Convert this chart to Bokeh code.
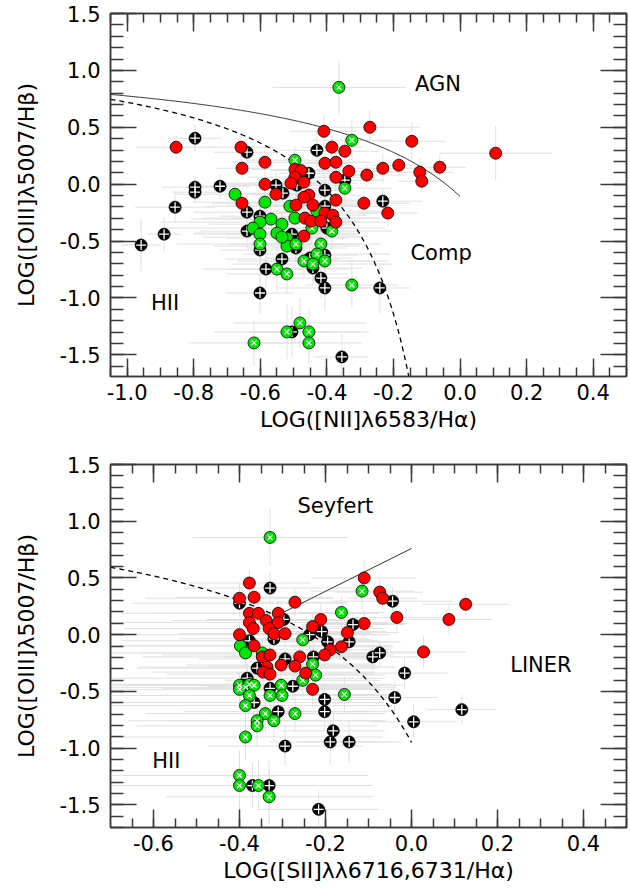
import numpy as np
from bokeh.plotting import figure
from bokeh.models import LinearAxis, SingleIntervalTicker, Range1d, PrintfTickFormatter
from bokeh.layouts import column
from bokeh.embed import file_html
from bokeh.resources import INLINE
from bokeh.core.properties import value

FONT = "DejaVu Sans"
AXC = "#3a3a3a"
RED = "#ff0000"
GREEN = "#00e600"
ERRC = "#e0e0e0"

# ---------------- top panel: [NII]/Ha ----------------
top_red_x = [-0.853,-0.658,-0.655,-0.586,-0.586,-0.655,-0.553,-0.409,-0.271,-0.385,
             -0.346,-0.406,-0.373,-0.496,-0.478,-0.334,-0.280,-0.232,-0.184,-0.145,
             0.107,-0.061,-0.121,-0.115,-0.496,-0.373,-0.508,-0.469,-0.454,-0.469,
             -0.373,-0.289,-0.217,-0.493,-0.442,-0.406,-0.382,-0.466,-0.448,-0.418,
             -0.373,-0.469]
top_red_y = [0.325,0.325,0.140,0.193,0.000,-0.167,-0.088,0.465,0.500,0.325,
             0.290,0.184,0.193,0.130,0.120,0.114,0.080,0.140,0.167,0.377,
             0.272,0.149,0.105,0.026,0.061,0.061,0.009,0.018,-0.096,-0.114,
             -0.140,-0.167,-0.254,-0.184,-0.184,-0.254,-0.272,-0.298,-0.325,-0.325,
             -0.333,-0.456]
top_red_xe = [0.12,0.10,0.08,0.10,0.12,0.09,0.14,0.10,0.15,0.09,0.10,0.08,0.11,0.13,0.09,
              0.15,0.12,0.12,0.08,0.10,0.17,0.08,0.10,0.07,0.14,0.12,0.20,0.10,0.16,0.13,
              0.11,0.14,0.09,0.21,0.12,0.16,0.10,0.22,0.13,0.11,0.15,0.19]
top_red_ye = [0.10,0.12,0.09,0.11,0.08,0.10,0.12,0.14,0.15,0.10,0.12,0.08,0.10,0.09,0.11,
              0.12,0.10,0.13,0.09,0.16,0.24,0.10,0.12,0.09,0.08,0.10,0.11,0.09,0.12,0.10,
              0.13,0.11,0.12,0.09,0.10,0.12,0.14,0.11,0.10,0.12,0.09,0.13]

top_blk_x = [-0.796,-0.796,-0.796,-0.721,-0.856,-0.640,-0.430,-0.454,-0.346,-0.553,
             -0.532,-0.490,-0.406,-0.232,-0.640,-0.601,-0.406,-0.400,-0.505,-0.640,
             -0.493,-0.601,-0.535,-0.451,-0.406,-0.442,-0.583,-0.418,-0.406,-0.241,
             -0.601,-0.505,-0.355,-0.889,-0.958]
top_blk_y = [0.404,-0.026,-0.070,-0.018,-0.202,0.281,0.298,0.096,0.035,-0.009,
             -0.079,-0.009,-0.053,-0.149,-0.246,-0.281,-0.193,-0.386,-0.439,-0.412,
             -0.561,-0.579,-0.658,-0.649,-0.623,-0.737,-0.746,-0.825,-0.912,-0.912,
             -0.956,-1.298,-1.518,-0.439,-0.535]
top_blk_xe = [0.08,0.10,0.07,0.09,0.12,0.10,0.11,0.09,0.12,0.14,0.10,0.13,0.09,0.12,0.16,
              0.12,0.18,0.10,0.20,0.14,0.15,0.12,0.17,0.13,0.10,0.15,0.12,0.11,0.14,0.09,
              0.10,0.13,0.08,0.05,0.06]
top_blk_ye = [0.12,0.10,0.09,0.11,0.14,0.12,0.15,0.11,0.10,0.12,0.13,0.10,0.12,0.11,0.14,
              0.12,0.10,0.13,0.11,0.15,0.12,0.14,0.13,0.12,0.15,0.14,0.16,0.18,0.20,0.22,
              0.18,0.22,0.20,0.15,0.23]

top_grn_x = [-0.676,-0.586,-0.511,-0.430,-0.496,-0.568,-0.601,-0.535,-0.622,-0.601,
             -0.550,-0.520,-0.520,-0.535]
top_grn_y = [-0.088,-0.158,-0.193,-0.237,-0.298,-0.307,-0.333,-0.351,-0.386,-0.439,
             -0.430,-0.474,-0.544,-0.465]
top_grn_xe = [0.18,0.22,0.25,0.20,0.28,0.24,0.30,0.22,0.26,0.20,0.25,0.18,0.22,0.24]
top_grn_ye = [0.10,0.12,0.11,0.13,0.10,0.12,0.14,0.11,0.13,0.12,0.10,0.14,0.12,0.11]

top_gx_x = [-0.364,-0.325,-0.496,-0.346,-0.385,-0.445,-0.601,-0.493,-0.418,-0.430,
            -0.469,-0.442,-0.406,-0.550,-0.520,-0.325,-0.481,-0.520,-0.454,-0.454,-0.619]
top_gx_y = [0.851,0.386,0.211,-0.035,-0.412,-0.386,-0.526,-0.526,-0.526,-0.614,
            -0.675,-0.702,-0.675,-0.746,-0.789,-0.886,-1.219,-1.298,-1.298,-1.395,-1.395]
top_gx_xe = [0.20,0.12,0.15,0.14,0.18,0.22,0.25,0.20,0.18,0.22,0.20,0.24,0.19,0.22,0.18,
             0.14,0.20,0.22,0.18,0.16,0.20]
top_gx_ye = [0.23,0.18,0.12,0.14,0.16,0.15,0.18,0.14,0.16,0.17,0.15,0.18,0.16,0.20,0.18,
             0.20,0.22,0.24,0.20,0.18,0.20]

# ---------------- bottom panel: [SII]/Ha ----------------
bot_red_x = [-0.377,-0.400,-0.366,-0.271,-0.110,-0.074,-0.067,0.126,-0.034,0.087,
             -0.377,-0.356,-0.310,-0.377,-0.338,-0.310,-0.211,-0.230,-0.110,-0.368,
             -0.331,-0.320,-0.294,-0.149,-0.400,-0.366,-0.163,-0.189,-0.202,0.028,
             -0.347,-0.329,-0.260,-0.271,-0.303,-0.336,-0.345,-0.329,-0.246,-0.230]
bot_red_y = [0.455,0.321,0.330,0.286,0.500,0.375,0.321,0.268,0.152,0.134,
             0.188,0.188,0.188,0.107,0.125,0.107,0.134,0.071,0.098,0.054,
             0.054,0.009,0.009,0.018,0.000,-0.098,-0.107,-0.134,-0.179,-0.152,
             -0.196,-0.179,-0.196,-0.277,-0.268,-0.286,-0.330,-0.348,-0.339,-0.482]
bot_red_xe = [0.14,0.22,0.18,0.12,0.12,0.10,0.08,0.10,0.12,0.10,
              0.30,0.25,0.20,0.32,0.22,0.18,0.12,0.14,0.10,0.30,
              0.26,0.22,0.20,0.12,0.35,0.30,0.12,0.14,0.16,0.10,
              0.28,0.25,0.18,0.20,0.22,0.30,0.26,0.24,0.16,0.14]
bot_red_ye = [0.12,0.14,0.10,0.12,0.16,0.12,0.10,0.10,0.12,0.14,
              0.10,0.12,0.11,0.10,0.12,0.10,0.13,0.11,0.12,0.10,
              0.12,0.10,0.11,0.12,0.10,0.12,0.11,0.10,0.12,0.14,
              0.11,0.10,0.12,0.11,0.10,0.12,0.11,0.13,0.12,0.14]

bot_blk_x = [-0.329,-0.400,-0.297,-0.044,-0.136,-0.209,-0.237,-0.377,-0.320,-0.195,
             -0.145,-0.294,-0.228,-0.090,-0.074,-0.016,-0.359,-0.382,-0.329,-0.276,
             -0.366,-0.310,-0.294,-0.202,-0.202,-0.039,0.117,0.005,-0.182,-0.189,
             -0.145,-0.370,-0.331,-0.216]
bot_blk_y = [0.411,0.277,0.134,0.295,0.089,0.027,0.000,-0.054,-0.036,-0.063,
             -0.063,-0.214,-0.196,-0.196,-0.161,-0.339,-0.295,-0.384,-0.473,-0.455,
             -0.598,-0.679,-0.982,-0.571,-0.679,-0.554,-0.661,-0.768,-0.848,-0.946,
             -0.946,-1.330,-1.330,-1.540]
bot_blk_xe = [0.20,0.25,0.18,0.14,0.12,0.15,0.16,0.30,0.22,0.14,
              0.12,0.20,0.16,0.10,0.12,0.10,0.28,0.32,0.25,0.20,
              0.30,0.22,0.18,0.14,0.15,0.10,0.08,0.10,0.12,0.14,
              0.12,0.26,0.24,0.14]
bot_blk_ye = [0.14,0.12,0.10,0.12,0.11,0.10,0.12,0.11,0.10,0.12,
              0.11,0.12,0.13,0.12,0.11,0.14,0.12,0.13,0.14,0.12,
              0.15,0.16,0.18,0.15,0.16,0.14,0.13,0.15,0.18,0.20,
              0.18,0.20,0.22,0.16]

bot_grn_x = [-0.398,-0.386,-0.347]
bot_grn_y = [-0.098,-0.161,-0.161]
bot_grn_xe = [0.35,0.32,0.28]
bot_grn_ye = [0.12,0.14,0.12]

bot_gx_x = [-0.329,-0.115,-0.163,-0.253,-0.230,-0.223,-0.253,-0.156,-0.400,-0.386,
            -0.377,-0.366,-0.400,-0.377,-0.386,-0.329,-0.303,-0.301,-0.340,-0.320,
            -0.359,-0.359,-0.271,-0.386,-0.400,-0.400,-0.356,-0.331]
bot_gx_y = [0.857,0.384,0.196,-0.045,-0.259,-0.357,-0.402,-0.527,-0.446,-0.464,
            -0.438,-0.446,-0.482,-0.536,-0.625,-0.536,-0.446,-0.536,-0.696,-0.759,
            -0.759,-0.804,-0.696,-0.902,-1.241,-1.330,-1.330,-1.429]
bot_gx_xe = [0.18,0.12,0.10,0.16,0.14,0.16,0.18,0.12,0.38,0.35,
             0.33,0.30,0.36,0.32,0.34,0.26,0.24,0.22,0.28,0.25,
             0.30,0.28,0.20,0.32,0.30,0.30,0.26,0.24]
bot_gx_ye = [0.25,0.16,0.14,0.12,0.14,0.13,0.15,0.16,0.12,0.13,
             0.12,0.14,0.13,0.15,0.16,0.14,0.13,0.15,0.17,0.18,
             0.16,0.18,0.16,0.20,0.22,0.24,0.22,0.24]

# demarcation-line coefficients (Kauffmann 2003, Kewley 2001, Kewley 2006)
KE01_N = (0.61, 0.47, 1.19)
KA03_N = (0.61, 0.05, 1.30)
KE01_S = (0.72, 0.32, 1.30)
SEY_S = (1.89, 0.76)

top_labels = ["AGN", "Comp", "HII"]
top_label_x = [-0.066, -0.057, -0.886]
top_label_y = [0.88, -0.605, -1.045]
bot_labels = ["Seyfert", "LINER", "HII"]
bot_label_x = [-0.177, 0.301, -0.570]
bot_label_y = [1.135, -0.27, -1.115]


def style_axis(ax, tin, tmin, show):
    ax.major_tick_in = tin
    ax.major_tick_out = 0
    ax.minor_tick_in = tmin
    ax.minor_tick_out = 0
    for a in ("axis_line", "major_tick_line", "minor_tick_line"):
        setattr(ax, a + "_color", AXC)
        setattr(ax, a + "_width", 1.5)
    ax.major_label_text_font = FONT
    ax.major_label_text_font_size = "21px"
    ax.major_label_text_color = "black"
    ax.axis_label_text_font = FONT
    ax.axis_label_text_font_size = "22px"
    ax.axis_label_text_font_style = "normal"
    ax.axis_label_text_color = "black"
    if not show:
        ax.major_label_text_color = None
        ax.major_label_text_font_size = "1px"
        ax.major_label_standoff = 0


def panel(height, borders, xr, yr, xlabel, ylabel):
    left, right, top, bottom = borders
    p = figure(width=630, height=height, x_range=Range1d(*xr), y_range=Range1d(*yr),
               output_backend="svg", toolbar_location=None,
               min_border_left=left, min_border_right=right,
               min_border_top=top, min_border_bottom=bottom)
    p.xgrid.visible = False
    p.ygrid.visible = False
    p.outline_line_color = AXC
    p.outline_line_width = 1.5
    xt = SingleIntervalTicker(interval=0.2, num_minor_ticks=4)
    yt = SingleIntervalTicker(interval=0.5, num_minor_ticks=5)
    fmt = PrintfTickFormatter(format="%.1f")
    bx = p.xaxis[0]
    by = p.yaxis[0]
    bx.ticker = xt
    bx.formatter = fmt
    by.ticker = yt
    by.formatter = fmt
    bx.axis_label = xlabel
    by.axis_label = ylabel
    style_axis(bx, 18, 9, True)
    style_axis(by, 26, 13, True)
    bx.major_label_standoff = 7
    bx.axis_label_standoff = 4
    by.major_label_standoff = 10
    by.axis_label_standoff = 18
    ta = LinearAxis(ticker=xt, formatter=fmt)
    style_axis(ta, 18, 9, False)
    p.add_layout(ta, "above")
    ra = LinearAxis(ticker=yt, formatter=fmt)
    style_axis(ra, 26, 13, False)
    p.add_layout(ra, "right")
    return p


def errors(p, groups):
    for xs, ys, xe, ye in groups:
        xs = np.array(xs); ys = np.array(ys); xe = np.array(xe); ye = np.array(ye)
        p.segment(x0=xs - xe, y0=ys, x1=xs + xe, y1=ys, line_color=ERRC, line_width=1)
        p.segment(x0=xs, y0=ys - ye, x1=xs, y1=ys + ye, line_color=ERRC, line_width=1)


MS = 12


def points(p, blk, grn, gx, red):
    p.scatter(blk[0], blk[1], marker="circle", size=MS, fill_color="black",
              line_color="black", line_width=0.8)
    p.scatter(blk[0], blk[1], marker="cross", size=10, line_color="white", line_width=1.3)
    p.scatter(grn[0], grn[1], marker="circle", size=MS, fill_color=GREEN,
              line_color="black", line_width=0.8)
    p.scatter(gx[0], gx[1], marker="circle", size=MS, fill_color=GREEN,
              line_color="black", line_width=0.8)
    p.scatter(gx[0], gx[1], marker="x", size=7, line_color="white", line_width=1.2)
    p.scatter(red[0], red[1], marker="circle", size=MS, fill_color=RED,
              line_color="black", line_width=0.8)


def labels(p, t, xs, ys):
    p.text(x=xs, y=ys, text=t, text_font=value(FONT), text_font_size="21px",
           text_align="center", text_baseline="middle", text_color="black")


# ---- top ----
p1 = panel(440, (110, 3, 13, 64), (-1.05, 0.5), (-1.69, 1.5),
           "LOG([NII]\u03bb6583/H\u03b1)", "LOG([OIII]\u03bb5007/H\u03b2)")
errors(p1, [(top_blk_x, top_blk_y, top_blk_xe, top_blk_ye),
            (top_grn_x, top_grn_y, top_grn_xe, top_grn_ye),
            (top_gx_x, top_gx_y, top_gx_xe, top_gx_ye),
            (top_red_x, top_red_y, top_red_xe, top_red_ye)])
a, b, c = KE01_N
xk = np.linspace(-1.05, 0.0, 200)
p1.line(xk, a / (xk - b) + c, line_color="#333333", line_width=1)
a, b, c = KA03_N
xa = np.linspace(-1.05, -0.152, 200)
p1.line(xa, a / (xa - b) + c, line_color="black", line_width=1.3, line_dash="5 4")
points(p1, (top_blk_x, top_blk_y), (top_grn_x, top_grn_y), (top_gx_x, top_gx_y),
       (top_red_x, top_red_y))
labels(p1, top_labels, top_label_x, top_label_y)

# ---- bottom ----
p2 = panel(453, (107, 4, 24, 66), (-0.7, 0.5), (-1.7, 1.5),
           "LOG([SII]\u03bb\u03bb6716,6731/H\u03b1)", "LOG([OIII]\u03bb5007/H\u03b2)")
errors(p2, [(bot_blk_x, bot_blk_y, bot_blk_xe, bot_blk_ye),
            (bot_grn_x, bot_grn_y, bot_grn_xe, bot_grn_ye),
            (bot_gx_x, bot_gx_y, bot_gx_xe, bot_gx_ye),
            (bot_red_x, bot_red_y, bot_red_xe, bot_red_ye)])
a, b, c = KE01_S
xs_ = np.linspace(-0.7, 0.0, 200)
p2.line(xs_, a / (xs_ - b) + c, line_color="black", line_width=1.3, line_dash="5 4")
m, q = SEY_S
xl = np.array([-0.315, 0.0])
p2.line(xl, m * xl + q, line_color="#333333", line_width=1)
points(p2, (bot_blk_x, bot_blk_y), (bot_grn_x, bot_grn_y), (bot_gx_x, bot_gx_y),
       (bot_red_x, bot_red_y))
labels(p2, bot_labels, bot_label_x, bot_label_y)

layout = column(p1, p2, spacing=0)
open("out.html", "w").write(file_html(layout, INLINE))
